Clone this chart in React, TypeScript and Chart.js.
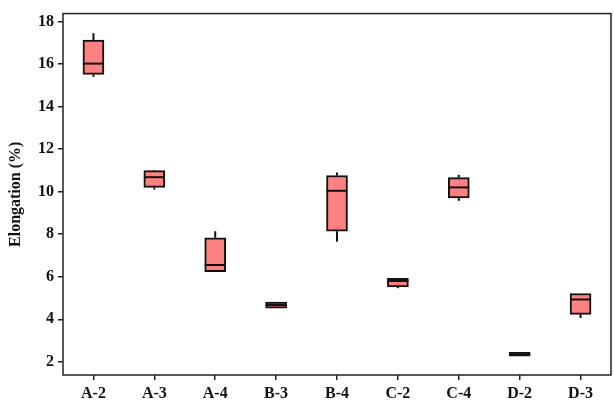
import React, { useEffect, useRef } from "react";
import { Chart, registerables } from "chart.js";

Chart.register(...registerables);

const categories = ["A-2", "A-3", "A-4", "B-3", "B-4", "C-2", "C-4", "D-2", "D-3"];
const mins = [15.4, 10.1, 6.24, 4.52, 7.64, 5.46, 9.57, 2.27, 4.06];
const q1s = [15.51, 10.2, 6.24, 4.52, 8.14, 5.52, 9.7, 2.27, 4.23];
const medians = [16.02, 10.68, 6.55, 4.67, 10.04, 5.8, 10.2, 2.36, 4.93];
const q3s = [17.13, 10.99, 7.83, 4.81, 10.76, 5.93, 10.66, 2.45, 5.21];
const maxs = [17.45, 11.02, 8.14, 4.81, 10.9, 5.93, 10.79, 2.45, 5.21];
const yTicks = [2, 4, 6, 8, 10, 12, 14, 16, 18];

const FONT = "'Liberation Serif', 'Times New Roman', serif";

const boxPlugin = {
  id: "boxExtras",
  afterDatasetsDraw(chart: any) {
    const ctx = chart.ctx;
    const y = chart.scales.y;
    const meta = chart.getDatasetMeta(0);
    ctx.save();
    ctx.strokeStyle = "#111";
    ctx.lineWidth = 2;
    ctx.lineCap = "butt";
    meta.data.forEach((bar: any, i: number) => {
      const x = bar.x;
      const hw = bar.width / 2;
      const yMax = y.getPixelForValue(maxs[i]);
      const yQ3 = y.getPixelForValue(q3s[i]);
      const yQ1 = y.getPixelForValue(q1s[i]);
      const yMin = y.getPixelForValue(mins[i]);
      if (yQ3 - yMax > 0.5) {
        ctx.beginPath();
        ctx.moveTo(x, yQ3);
        ctx.lineTo(x, yMax);
        ctx.stroke();
      }
      if (yMin - yQ1 > 0.5) {
        ctx.beginPath();
        ctx.moveTo(x, yQ1);
        ctx.lineTo(x, yMin);
        ctx.stroke();
      }
      const yMed = y.getPixelForValue(medians[i]);
      ctx.beginPath();
      ctx.moveTo(x - hw, yMed);
      ctx.lineTo(x + hw, yMed);
      ctx.stroke();
    });
    const a = chart.chartArea;
    ctx.strokeStyle = "#222";
    ctx.lineWidth = 1.5;
    ctx.strokeRect(a.left, a.top, a.right - a.left, a.bottom - a.top);
    ctx.restore();
  },
};

export default function App() {
  const ref = useRef<HTMLCanvasElement>(null);
  useEffect(() => {
    if (!ref.current) return;
    const chart = new Chart(ref.current, {
      type: "bar",
      data: {
        labels: categories,
        datasets: [
          {
            data: categories.map((_, i) => [q1s[i], q3s[i]]) as any,
            backgroundColor: "#FF8080",
            borderColor: "#111",
            borderWidth: 2,
            borderSkipped: false,
            barThickness: 21,
          },
        ],
      },
      options: {
        responsive: false,
        animation: false,
        layout: { padding: { left: 0, right: 3, top: 11, bottom: 0 } },
        plugins: { legend: { display: false }, tooltip: { enabled: false } },
        scales: {
          x: {
            offset: true,
            grid: {
              offset: false,
              drawOnChartArea: false,
              drawTicks: true,
              tickLength: 5,
              color: "#222",
              lineWidth: 1.5,
            },
            border: { display: false },
            ticks: {
              color: "#111",
              padding: 4,
              font: { family: FONT, size: 16, weight: "bold" },
              maxRotation: 0,
            },
            afterFit(scale: any) {
              scale.height = 33;
            },
          },
          y: {
            min: 1.38,
            max: 18.37,
            grid: {
              drawOnChartArea: false,
              drawTicks: true,
              tickLength: 5,
              color: "#222",
              lineWidth: 1.5,
            },
            border: { display: false },
            ticks: {
              color: "#111",
              padding: 4,
              font: { family: FONT, size: 16, weight: "bold" },
            },
            afterBuildTicks(scale: any) {
              scale.ticks = yTicks.map((v) => ({ value: v }));
            },
            title: {
              display: true,
              text: "Elongation (%)",
              color: "#111",
              font: { family: FONT, size: 16, weight: "bold" },
              padding: { top: 6, bottom: 0 },
            },
            afterFit(scale: any) {
              scale.width = 63;
            },
          },
        },
      },
      plugins: [boxPlugin],
    });
    return () => chart.destroy();
  }, []);
  return (
    <div style={{ position: "fixed", left: 0, top: 0, width: 614, height: 408, background: "#fff" }}>
      <canvas ref={ref} width={614} height={408} />
    </div>
  );
}
